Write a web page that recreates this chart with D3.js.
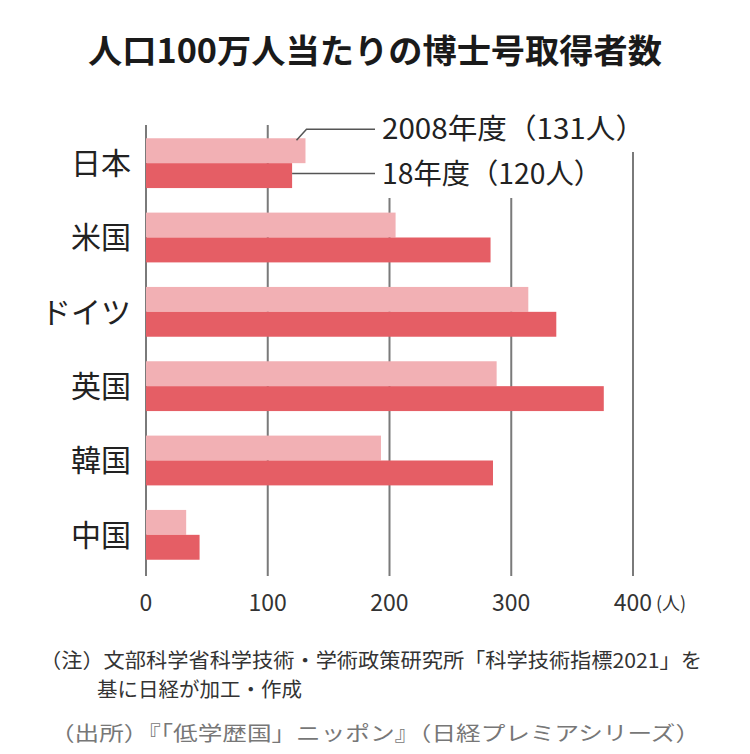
<!DOCTYPE html>
<html><head><meta charset="utf-8">
<script src="https://cdn.jsdelivr.net/npm/d3@7"></script>
<style>body{margin:0;background:#fff}text{font-family:"Noto Sans CJK JP","Noto Sans",sans-serif}</style>
</head><body>
<svg id="c" width="750" height="754"></svg>
<script>
const title = "人口100万人当たりの博士号取得者数";
const categories = ["日本","米国","ドイツ","英国","韓国","中国"];
const series = ["2008年度","18年度"];
const values2008 = [131, 205, 314, 288, 193, 33];
const values2018 = [120, 283, 337, 376, 285, 44];
const ticks = [0,100,200,300,400];
const unit = "(人)";
const legendLabels = ["2008年度（131人）","18年度（120人）"];
const noteLines = ["（注）文部科学省科学技術・学術政策研究所「科学技術指標2021」を","基に日経が加工・作成"];
const source = "（出所）『「低学歴国」ニッポン』（日経プレミアシリーズ）";
const colors = ["#f2b0b4","#e55e65"];

const svg = d3.select("#c");
const x = d3.scaleLinear().domain([0,400]).range([146,633]);
const y = d3.scaleBand().domain(categories).range([126,572]).paddingInner(0.33).paddingOuter(0.165);
const sub = d3.scaleBand().domain(series).range([0,y.bandwidth()]);

svg.append("text").attr("x",88).attr("y",63)
  .attr("font-size",33).attr("font-weight","bold").attr("fill","#1a1a1a")
  .attr("textLength",574).attr("lengthAdjust","spacingAndGlyphs").text(title);

// gridlines
const gridTop = {0:125,100:125,200:198,300:198,400:152};
svg.append("g").selectAll("line").data(ticks).join("line")
  .attr("x1",d=>x(d)).attr("x2",d=>x(d)).attr("y1",d=>gridTop[d]).attr("y2",576)
  .attr("stroke","#7a7a7a").attr("stroke-width",2);

const g = svg.append("g").selectAll("g").data(categories).join("g")
  .attr("transform",d=>`translate(0,${y(d)})`);
g.append("rect").attr("x",x(0)).attr("y",sub(series[0])).attr("height",sub.bandwidth())
  .attr("width",(d,i)=>x(values2008[i])-x(0)).attr("fill",colors[0]);
g.append("rect").attr("x",x(0)).attr("y",sub(series[1])).attr("height",sub.bandwidth())
  .attr("width",(d,i)=>x(values2018[i])-x(0)).attr("fill",colors[1]);
g.append("text").attr("x",131).attr("y",y.bandwidth()/2).attr("dy","0.36em")
  .attr("text-anchor","end").attr("font-size",30).attr("fill","#222").text(d=>d);

// x axis labels
svg.append("g").selectAll("text").data(ticks).join("text")
  .attr("x",d=>x(d)).attr("y",611).attr("text-anchor","middle")
  .attr("font-size",23).attr("fill","#333").text(d=>d);
svg.append("text").attr("x",x(400)+23).attr("y",610).attr("font-size",18).attr("fill","#333").text(unit);

// legend callouts
const j = 0;
const b0y = y(categories[j]);
const e08 = x(values2008[j]), e18 = x(values2018[j]);
const ly1 = b0y-9, ly2 = b0y+sub(series[1])+sub.bandwidth()/2-2;
svg.append("path").attr("d",`M${e08-9},${b0y+2}L${e08+1},${ly1}L375,${ly1}`)
  .attr("fill","none").attr("stroke","#555").attr("stroke-width",1.5);
svg.append("path").attr("d",`M${e18},${ly2}L375,${ly2}`)
  .attr("fill","none").attr("stroke","#555").attr("stroke-width",1.5);
svg.append("text").attr("x",382).attr("y",ly1).attr("dy","0.36em").attr("font-size",28).attr("fill","#222")
  .attr("textLength",263).attr("lengthAdjust","spacingAndGlyphs").text(legendLabels[0]);
svg.append("text").attr("x",382).attr("y",ly2).attr("dy","0.36em").attr("font-size",28).attr("fill","#222")
  .attr("textLength",220).attr("lengthAdjust","spacingAndGlyphs").text(legendLabels[1]);

// notes
svg.append("text").attr("x",40).attr("y",668).attr("font-size",20).attr("fill","#333")
  .attr("textLength",662).attr("lengthAdjust","spacingAndGlyphs").text(noteLines[0]);
svg.append("text").attr("x",97).attr("y",697).attr("font-size",20).attr("fill","#333")
  .attr("textLength",205).attr("lengthAdjust","spacingAndGlyphs").text(noteLines[1]);
svg.append("text").attr("x",50).attr("y",741).attr("font-size",20).attr("fill","#777")
  .attr("textLength",650).attr("lengthAdjust","spacingAndGlyphs").text(source);
</script>
</body></html>
